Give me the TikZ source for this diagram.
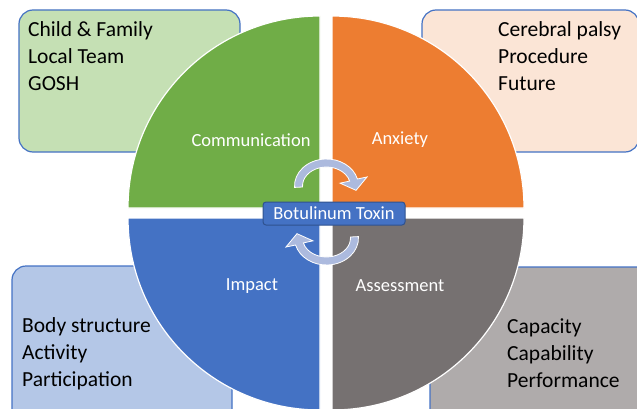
\documentclass[tikz,border=0pt]{standalone}
\usepackage{fontspec}
\setmainfont{Carlito}
\definecolor{greenq}{HTML}{70AD47}
\definecolor{orangeq}{HTML}{ED7D31}
\definecolor{blueq}{HTML}{4472C4}
\definecolor{greyq}{HTML}{767171}
\definecolor{greenbox}{HTML}{C5E0B4}
\definecolor{orangebox}{HTML}{FBE5D6}
\definecolor{bluebox}{HTML}{B4C7E7}
\definecolor{greybox}{HTML}{AFABAB}
\definecolor{boxline}{HTML}{4472C4}
\definecolor{toxinline}{HTML}{2F528F}
\definecolor{arrowfill}{RGB}{172,186,222}
\begin{document}
\begin{tikzpicture}[x = 1pt, y = 1pt,
  infobox/.style = {draw = boxline, line width = 1.2pt, rounded corners = 14pt},
  boxtext/.style = {anchor = north west, inner sep = 0pt, align = left, font = \fontsize{21.5}{27}\selectfont},
  quarter/.style = {draw = white, line width = 1.2pt},
  quartertext/.style = {white, anchor = base, inner sep = 0pt, font = \fontsize{18.5}{22}\selectfont},
  cyclearrow/.style = {fill = arrowfill, draw = white, line width = 0.8pt}]
\useasboundingbox (0,0) rectangle (637,408);
\clip (0,0) rectangle (637,408);
% boxes in the corners
\draw[infobox, fill = greenbox] (19,256) rectangle (240,398);
\draw[infobox, fill = orangebox] (422,256) rectangle (639,398);
\draw[infobox, fill = bluebox] (12,-20) rectangle (232,142);
\draw[infobox, fill = greybox] (430,-20) rectangle (652,141);
\node[boxtext] (people) at (28,386.5) {Child \& Family\\Local Team\\GOSH};
\node[boxtext] (topics) at (498,386.5) {Cerebral palsy\\Procedure\\Future};
\node[boxtext] (levels) at (22,90.5) {Body structure\\Activity\\Participation};
\node[boxtext] (measures) at (507,89) {Capacity\\Capability\\Performance};
% the four quarters
\foreach \cx/\cy/\a/\col in {320/200/90/greenq, 332/200/0/orangeq, 320/190/180/blueq, 332/190/270/greyq}
{
\filldraw[quarter, fill = \col] (\cx,\cy) -- ++(\a:192) arc[start angle = \a, delta angle = 90, radius = 192] -- cycle;
}
\node[quartertext] (communication) at (251,262) {Communication};
\node[quartertext] (anxiety) at (400,264) {Anxiety};
\node[quartertext] (impact) at (252,118) {Impact};
\node[quartertext] (assessment) at (400,117) {Assessment};
% arrows round the middle
\foreach \ang/\cy in {0/222, 180/170}
{
\begin{scope}[shift = {(326.5,\cy)}, rotate = \ang]
\filldraw[cyclearrow] (183:32 and 27) arc[start angle = 183, end angle = 15, x radius = 32, y radius = 27]
  -- (15:42 and 35) -- (-10:30 and 25) -- (15:14 and 11) -- (15:24 and 19)
  arc[start angle = 15, end angle = 183, x radius = 24, y radius = 19] -- cycle;
\end{scope}
}
\node[draw = toxinline, fill = blueq, line width = 1pt, rounded corners = 3pt, minimum width = 142pt, minimum height = 23pt,
  text = white, font = \fontsize{18.5}{22}\selectfont] (toxin) at (334,194.5) {Botulinum Toxin};
\end{tikzpicture}
\end{document}
